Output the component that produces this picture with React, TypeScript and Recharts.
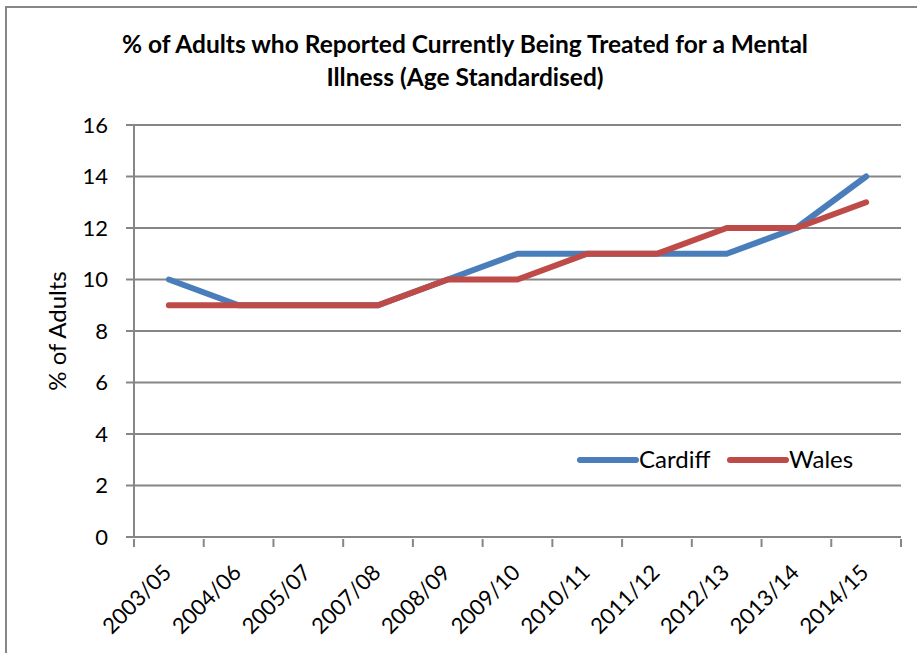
import React from 'react';
import { LineChart, Line, XAxis, YAxis, CartesianGrid } from 'recharts';

const categories = ['2003/05', '2004/06', '2005/07', '2007/08', '2008/09', '2009/10', '2010/11', '2011/12', '2012/13', '2013/14', '2014/15'];
const cardiff = [10, 9, 9, 9, 10, 11, 11, 11, 11, 12, 14];
const wales = [9, 9, 9, 9, 10, 10, 11, 11, 12, 12, 13];
const yTicks = [0, 2, 4, 6, 8, 10, 12, 14, 16];
const seriesNames = ['Cardiff', 'Wales'];

const data = categories.map((c, i) => ({ i, name: c, Cardiff: cardiff[i], Wales: wales[i] }));
const xTicks: number[] = [];
for (let i = 0; i <= categories.length; i++) {
  xTicks.push(i - 0.5);
  if (i < categories.length) xTicks.push(i);
}

const FONT = "Lato, 'Open Sans', sans-serif";
const GRAY = '#868686';
const BLUE = '#4A7EBB';
const RED = '#BE4B48';

const XTick = (props: any) => {
  const { x, y, payload } = props;
  const v = payload.value as number;
  if (!Number.isInteger(v)) {
    return <line x1={x} y1={y - 6} x2={x} y2={y + 2} stroke={GRAY} strokeWidth={2} />;
  }
  const label = categories[v] ?? '';
  const bx = x + 4;
  const by = y + 29;
  return (
    <text
      x={bx}
      y={by}
      transform={`rotate(-45 ${bx} ${by})`}
      textAnchor="end"
      fontSize={22}
      fontFamily={FONT}
      fill="#000"
    >
      {label}
    </text>
  );
};

export default function App() {
  return (
    <div style={{ position: 'absolute', left: 0, top: 0, width: 917, height: 653, overflow: 'hidden', background: '#fff' }}>
      <div style={{ position: 'absolute', left: 5, top: 6, width: 930, height: 670, border: `2px solid ${GRAY}`, boxSizing: 'border-box' }} />
      <div
        style={{
          position: 'absolute',
          left: 65,
          width: 800,
          top: 27,
          textAlign: 'center',
          fontFamily: FONT,
          fontWeight: 'bold',
          fontSize: 24.5,
          lineHeight: '33px',
          color: '#000',
        }}
      >
        % of Adults who Reported Currently Being Treated for a Mental
        <br />
        Illness (Age Standardised)
      </div>
      <div style={{ position: 'absolute', left: 0, top: 0 }}>
        <LineChart width={917} height={653} data={data} margin={{ top: 125, right: 16, left: 0, bottom: 0 }}>
          <CartesianGrid vertical={false} stroke={GRAY} strokeWidth={2} />
          <XAxis
            dataKey="i"
            type="number"
            domain={[-0.5, categories.length - 0.5]}
            ticks={xTicks}
            interval={0}
            height={116}
            axisLine={{ stroke: GRAY, strokeWidth: 2 }}
            tickLine={false}
            tick={<XTick />}
          />
          <YAxis
            type="number"
            domain={[0, 16]}
            ticks={yTicks}
            interval={0}
            width={134}
            axisLine={{ stroke: GRAY, strokeWidth: 2 }}
            tickLine={{ stroke: GRAY, strokeWidth: 2 }}
            tickSize={8}
            tickMargin={18}
            tick={{ fontSize: 22, fontFamily: FONT, fill: '#000' }}
            label={{ value: '% of Adults', angle: -90, position: 'insideLeft', dx: 52, dy: 0, fontSize: 24, fontFamily: FONT, fill: '#000', style: { textAnchor: 'middle' } }}
          />
          <Line dataKey="Cardiff" stroke={BLUE} strokeWidth={6} dot={false} isAnimationActive={false} strokeLinecap="round" strokeLinejoin="round" />
          <Line dataKey="Wales" stroke={RED} strokeWidth={6} dot={false} isAnimationActive={false} strokeLinecap="round" strokeLinejoin="round" />
        </LineChart>
      </div>
      <svg width={320} height={30} style={{ position: 'absolute', left: 570, top: 445, overflow: 'visible' }}>
        <line x1={10} y1={15} x2={66} y2={15} stroke={BLUE} strokeWidth={6} strokeLinecap="round" />
        <text x={69} y={23} fontSize={24} fontFamily={FONT} fill="#000">{seriesNames[0]}</text>
        <line x1={160} y1={15} x2={216} y2={15} stroke={RED} strokeWidth={6} strokeLinecap="round" />
        <text x={219} y={23} fontSize={24} fontFamily={FONT} fill="#000">{seriesNames[1]}</text>
      </svg>
    </div>
  );
}
